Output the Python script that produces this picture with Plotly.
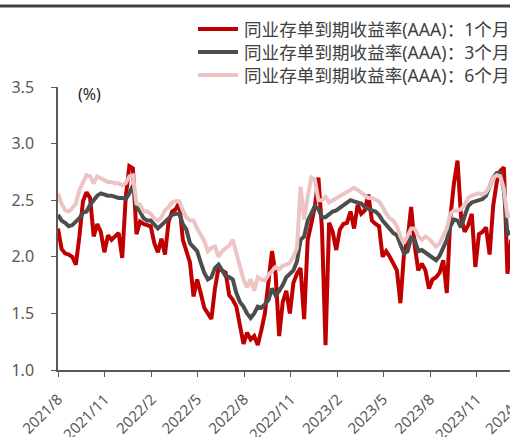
import pandas as pd
import plotly.graph_objects as go

# weekly observation dates
dates = pd.date_range("2021-08-01", periods=128, freq="7D")

yield_6m = [
    2.56, 2.47, 2.41, 2.40, 2.43, 2.47, 2.59, 2.65, 2.72, 2.71,
    2.65, 2.71, 2.69, 2.68, 2.66, 2.66, 2.65, 2.65, 2.63, 2.65,
    2.71, 2.72, 2.47, 2.46, 2.40, 2.40, 2.38, 2.34, 2.32, 2.35,
    2.41, 2.44,
    2.48, 2.49, 2.49, 2.41, 2.35, 2.32, 2.32, 2.25, 2.20, 2.14,
    2.05, 2.08, 2.09, 2.00, 2.05, 2.08, 2.10, 2.15, 2.03, 1.92,
    1.80, 1.73, 1.80, 1.70, 1.82, 1.80, 1.79, 1.84, 1.88, 1.91,
    1.89, 1.92, 1.93, 1.95, 2.00, 2.08, 2.62, 2.33, 2.53, 2.70,
    2.68, 2.50, 2.50, 2.53, 2.48, 2.50, 2.51, 2.53, 2.55, 2.57,
    2.59, 2.61, 2.59, 2.57, 2.55, 2.52, 2.52, 2.50, 2.49, 2.44,
    2.38, 2.34, 2.32,
    2.27, 2.18, 2.12, 2.18, 2.25, 2.25, 2.18, 2.15, 2.18, 2.16,
    2.12, 2.09, 2.12, 2.18, 2.25, 2.38, 2.41, 2.41, 2.42, 2.46,
    2.52, 2.54, 2.55, 2.56, 2.55, 2.57, 2.62, 2.70, 2.72, 2.71,
    2.60, 2.35, 2.38,
]

yield_3m = [
    2.37, 2.32, 2.30, 2.27, 2.28, 2.31, 2.34, 2.39, 2.40, 2.46,
    2.50, 2.54, 2.56, 2.55, 2.54, 2.54, 2.53, 2.52, 2.52, 2.51,
    2.56, 2.63, 2.44, 2.40, 2.34, 2.32, 2.32, 2.28, 2.25, 2.28,
    2.31, 2.33,
    2.37, 2.38, 2.38, 2.29, 2.24, 2.12, 2.08, 2.05, 1.95, 1.86,
    1.80, 1.82, 1.90, 1.93, 1.88, 1.83, 1.82, 1.80, 1.68, 1.60,
    1.56, 1.50, 1.46, 1.50, 1.56, 1.55, 1.58, 1.62, 1.72, 1.66,
    1.70, 1.75, 1.82, 1.85, 1.88, 1.96, 2.15, 2.18, 2.32, 2.38,
    2.45, 2.42, 2.35, 2.35, 2.38, 2.40, 2.41, 2.43, 2.45, 2.47,
    2.50, 2.49, 2.48, 2.47, 2.44, 2.42, 2.41, 2.40, 2.37, 2.32,
    2.28, 2.24, 2.21,
    2.19, 2.10, 2.03, 2.05, 2.17, 2.15, 2.05, 2.06, 2.04, 2.02,
    1.99, 1.97, 2.01, 2.08, 2.15, 2.27, 2.33, 2.32, 2.26, 2.36,
    2.45, 2.48, 2.49, 2.50, 2.51, 2.54, 2.62, 2.70, 2.74, 2.74,
    2.58, 2.20, 2.22,
]

yield_1m = [
    2.25, 2.07, 2.03, 2.02, 2.00, 1.93, 2.18, 2.49, 2.57, 2.52,
    2.18, 2.29, 2.22, 2.04, 2.19, 2.15, 2.18, 2.21, 1.99, 2.53,
    2.80, 2.78, 2.20, 2.31, 2.29, 2.28, 2.27, 2.12, 2.04, 2.16,
    2.02, 2.31,
    2.40, 2.42, 2.48, 2.15, 2.05, 1.95, 1.65, 1.80, 1.68, 1.55,
    1.50, 1.45, 1.72, 1.90, 1.88, 1.86, 1.66, 1.62, 1.56, 1.40,
    1.23, 1.33, 1.27, 1.30, 1.22, 1.35, 1.50, 1.78, 2.05, 1.85,
    1.30, 1.60, 1.70, 1.50, 1.77, 1.85, 1.90, 1.45, 2.15, 2.29,
    2.44, 2.70, 2.25, 1.22, 2.30, 2.22, 2.06, 2.24, 2.29, 2.30,
    2.40, 2.25, 2.46, 2.38, 2.41, 2.55, 2.32, 2.29, 2.27, 2.00,
    2.05, 2.00, 1.94,
    1.88, 1.59, 2.03, 2.15, 2.44, 2.10, 1.88, 1.94, 1.88, 1.72,
    1.80, 1.82, 1.86, 1.97, 1.68, 2.35, 2.65, 2.85, 2.35, 2.22,
    2.28, 2.38, 1.91, 2.20, 2.22, 2.26, 2.02, 2.45, 2.66, 2.76,
    2.79, 1.85, 2.15,
]

series_names = [
    "同业存单到期收益率(AAA)：1个月",
    "同业存单到期收益率(AAA)：3个月",
    "同业存单到期收益率(AAA)：6个月",
]
series_colors = ["#C00000", "#4D4D4D", "#EDC4C4"]

tick_dates = ["2021-08-01", "2021-11-01", "2022-02-01", "2022-05-01",
              "2022-08-01", "2022-11-01", "2023-02-01", "2023-05-01",
              "2023-08-01", "2023-11-01"]
tick_labels = ["2021/8", "2021/11", "2022/2", "2022/5", "2022/8",
               "2022/11", "2023/2", "2023/5", "2023/8", "2023/11"]
cut_label = "2024/2"

FONT = "Noto Sans, Noto Sans CJK SC, sans-serif"

fig = go.Figure()
for name, vals, col in zip(series_names, [yield_1m, yield_3m, yield_6m], series_colors):
    fig.add_trace(go.Scatter(x=dates, y=vals, mode="lines", name=name,
                             line=dict(color=col, width=4), showlegend=False))

fig.update_layout(
    width=510, height=437,
    margin=dict(l=58, r=0, t=87, b=67, pad=0),
    paper_bgcolor="white", plot_bgcolor="white",
    font=dict(family=FONT, color="#595959", size=16),
    showlegend=False,
)
fig.update_xaxes(
    type="date", range=["2021-08-01", "2024-01-05"],
    tickmode="array", tickvals=tick_dates, ticktext=tick_labels,
    tickangle=-45, ticks="outside", ticklen=5, tickcolor="#595959",
    showline=True, linecolor="#595959", linewidth=1.5,
    showgrid=False, zeroline=False, tickfont=dict(size=15),
    ticklabelstandoff=8, automargin=False,
)
fig.update_yaxes(
    range=[1.0, 3.5], dtick=0.5, tickformat=".1f",
    ticks="outside", ticklen=5, tickcolor="#595959",
    showline=True, linecolor="#595959", linewidth=1.5,
    showgrid=False, zeroline=False, tickfont=dict(size=16),
    ticklabelstandoff=14, automargin=False,
)

# top rule of the figure frame (paper coords: x 0..1 = px 58..510, y 0..1 = px 370..87)
fig.add_shape(type="line", xref="paper", yref="paper",
              x0=-0.1283, x1=1.0, y0=(370 - 6) / 283, y1=(370 - 6) / 283,
              line=dict(color="#404040", width=3))

# legend drawn at fixed positions
leg_rows = [1.2049, 1.1237, 1.0424]
for name, col, yy in zip(series_names, series_colors, leg_rows):
    fig.add_shape(type="line", xref="paper", yref="paper",
                  x0=0.3097, x1=0.3982, y0=yy, y1=yy,
                  line=dict(color=col, width=4))
    fig.add_annotation(text=name, xref="paper", yref="paper", x=0.4071, y=yy,
                       showarrow=False, xanchor="left", yanchor="middle",
                       font=dict(size=17.6, color="#404040"))

fig.add_annotation(text="(%)", xref="paper", yref="paper", x=0.07, y=0.975,
                   showarrow=False, font=dict(size=16, color="#262626"),
                   xanchor="center", yanchor="middle")
fig.add_annotation(text=cut_label, xref="paper", yref="paper", x=0.988, y=-0.157,
                   showarrow=False, textangle=-45, font=dict(size=15, color="#595959"),
                   xanchor="center", yanchor="middle")

fig.write_html("out.html", config={"displayModeBar": False},
               post_script="document.body.style.margin='0px';")
